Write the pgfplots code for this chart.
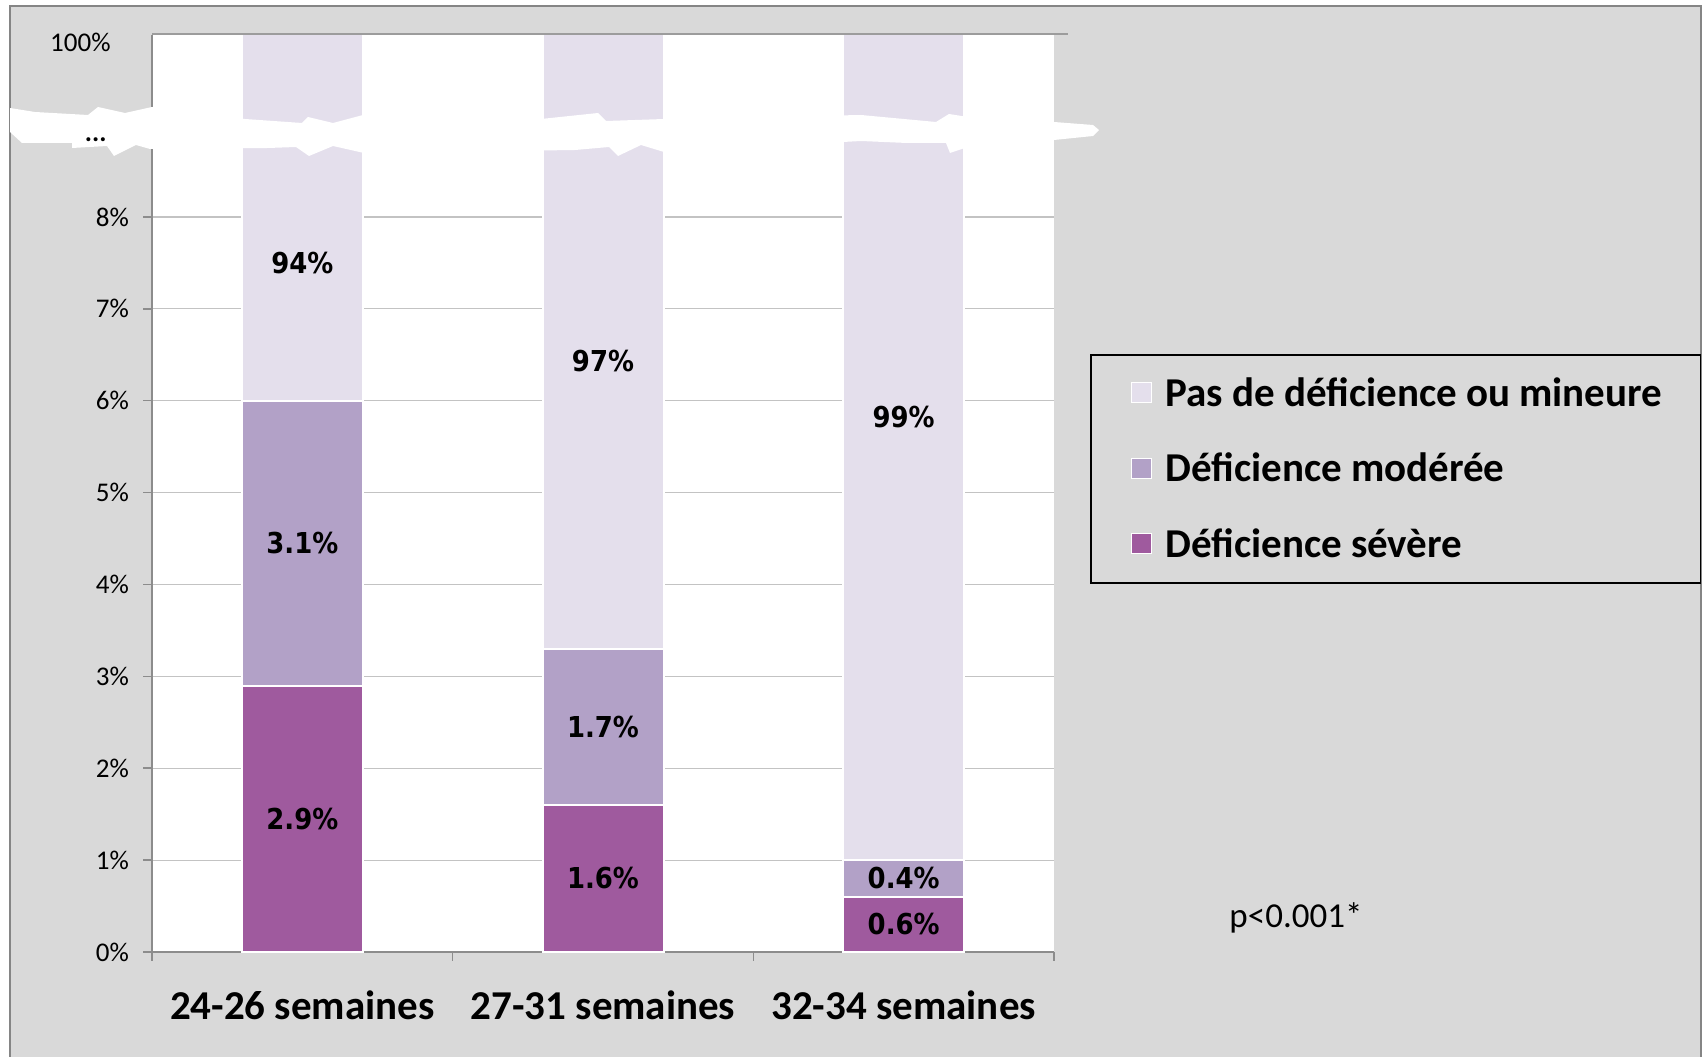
\documentclass[border=0pt]{standalone}
\usepackage{fontspec}
\setmainfont{Carlito}
\newfontfamily\barfont{DejaVu Sans Condensed}
\usepackage{pgfplots}
\pgfplotsset{compat=1.18}

\definecolor{severe}{HTML}{9F5A9E}
\definecolor{moderate}{HTML}{B2A1C7}
\definecolor{minor}{HTML}{E4DFEC}
\definecolor{panel}{HTML}{D9D9D9}
\definecolor{framegray}{HTML}{858585}
\definecolor{gridgray}{HTML}{C3C3C3}
\definecolor{axisgray}{HTML}{8C8C8C}

\begin{document}
\begin{tikzpicture}
\useasboundingbox (0,0) rectangle (852pt,528pt);
\fill[white] (0,0) rectangle (852pt,528pt);
% grey chart panel (pixel-style units, y pointing down)
\begin{scope}[x=0.5pt,y=-0.5pt,shift={(0pt,528pt)}]
  \filldraw[fill=panel,draw=framegray,line width=0.8pt] (10,6) rectangle (1701,1070);
\end{scope}

% stacked bars
\begin{axis}[
  at={(76pt,52pt)}, anchor=south west,
  scale only axis, width=451pt, height=458.5pt,
  xmin=-0.5, xmax=2.5, ymin=0, ymax=9.98,
  ybar stacked, bar width=60.5pt,
  axis background/.style={fill=white},
  axis x line*=bottom, axis y line*=left,
  axis line style={draw=axisgray, line width=0.75pt, -},
  tick align=outside,
  major tick length=4.5pt,
  tick style={draw=axisgray, line width=0.75pt},
  xtick={-0.5,0.5,1.5,2.5}, xticklabels={},
  extra x ticks={0,1,2},
  extra x tick labels={24-26 semaines,27-31 semaines,32-34 semaines},
  extra x tick style={major tick length=0pt},
  xticklabel style={font=\bfseries\fontsize{20.5}{24}\selectfont, yshift=-16pt},
  ytick={0,...,8},
  yticklabels={0\%,1\%,2\%,3\%,4\%,5\%,6\%,7\%,8\%},
  yticklabel style={font=\fontsize{13.5}{16}\selectfont, xshift=-3.5pt},
  ymajorgrids, grid style={draw=gridgray, line width=0.6pt},
  reverse legend,
  legend cell align=left,
  legend image code/.code={%
    \path (0pt,0pt);
    \draw[#1,draw=white,line width=0.5pt] (3.8pt,-4.7pt) rectangle (13.8pt,5.3pt);
    \path (17.3pt,0pt);},
  legend style={
    at={(1.0399,0.6521)}, anchor=north west,
    draw=black, line width=0.8pt, fill=panel,
    inner xsep=16pt, inner ysep=11.35pt,
    row sep=21.7pt, column sep=0pt,
    font=\bfseries\fontsize{20.5}{24}\selectfont,
    nodes={inner xsep=3pt, inner ysep=0pt, text height=14.5pt, text depth=1.5pt},
  },
]
\addplot[fill=severe, draw=white, line width=1pt] coordinates {(0,2.9) (1,1.6) (2,0.6)};
\addplot[fill=moderate, draw=white, line width=1pt] coordinates {(0,3.1) (1,1.7) (2,0.4)};
\addplot[fill=minor, draw=white, line width=1pt] coordinates {(0,94) (1,97) (2,99)};
\legend{Déficience sévère, Déficience modérée, Pas de déficience ou mineure}
\end{axis}

% value labels inside the segments
\begin{axis}[
  at={(76pt,52pt)}, anchor=south west,
  scale only axis, width=451pt, height=458.5pt,
  xmin=-0.5, xmax=2.5, ymin=0, ymax=9.98,
  hide axis, clip=false,
  nodes near coords, point meta=explicit symbolic,
  nodes near coords align={center},
  every node near coord/.append style={font=\barfont\bfseries\fontsize{14.4}{17}\selectfont, text=black},
]
\addplot[draw=none, mark=none] coordinates {(0,1.45)[2.9\%] (1,0.8)[1.6\%] (2,0.3)[0.6\%]};
\addplot[draw=none, mark=none] coordinates {(0,4.45)[3.1\%] (1,2.45)[1.7\%] (2,0.8)[0.4\%]};
\addplot[draw=none, mark=none] coordinates {(0,7.5)[94\%] (1,6.43)[97\%] (2,5.82)[99\%]};
\end{axis}

\begin{scope}[x=0.5pt,y=-0.5pt,shift={(0pt,528pt)}]
  % top edge of the plot area
  \draw[draw=gridgray!80!black, line width=0.9pt] (152,34) -- (1068,34);
  % axis break
  \fill[white] (10,108) -- (35,112) -- (88,115) -- (98,107) -- (125,113) -- (152,107)
    -- (245,119) -- (302,123) -- (308,117) -- (333,123) -- (363,115)
    -- (541,119) -- (598,113) -- (606,121) -- (664,119)
    -- (861,115) -- (936,122) -- (949,114) -- (968,117)
    -- (1054,122) -- (1093,125) -- (1099,130) -- (1093,136) -- (1054,140)
    -- (968,147) -- (950,153) -- (946,143) -- (907,143) -- (861,141)
    -- (664,152) -- (641,145) -- (618,156) -- (609,147) -- (575,150)
    -- (364,153) -- (333,146) -- (309,156) -- (296,147) -- (268,148)
    -- (150,149) -- (136,145) -- (114,156) -- (107,146) -- (72,148)
    -- (72,143) -- (22,143) -- (10,132) -- cycle;
  \node[anchor=east, inner sep=0pt, font=\bfseries\fontsize{13.5}{16}\selectfont] at (107,140) {...};
  \node[anchor=east, inner sep=0pt, font=\fontsize{13.5}{16}\selectfont] at (111,42) {100\%};
  \node[inner sep=0pt, font=\fontsize{17.5}{20}\selectfont] at (1296,918) {p<0.001*};
\end{scope}
\end{tikzpicture}
\end{document}
